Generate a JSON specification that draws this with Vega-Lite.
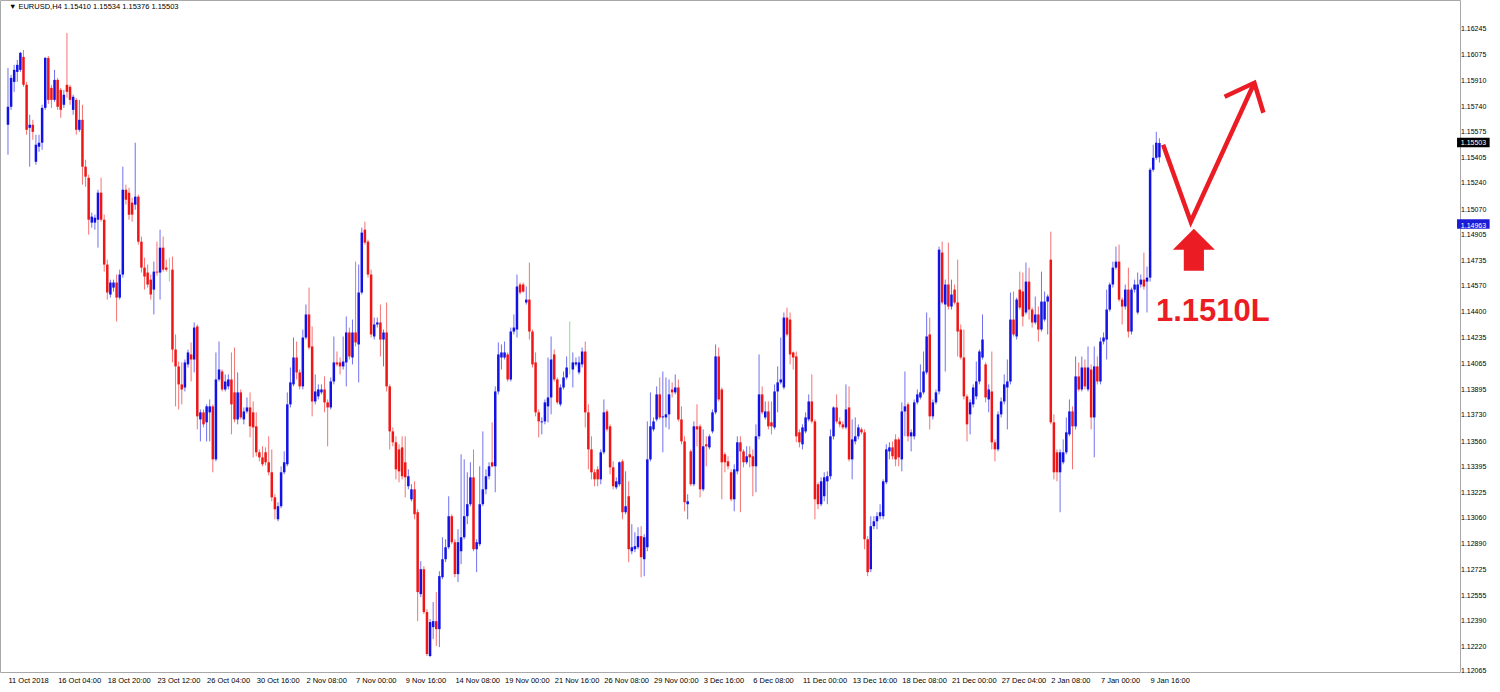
{
"$schema":"https://vega.github.io/schema/vega-lite/v6.json",
"width":1460,"height":672,
"autosize":{"type":"none"},
"padding":{"left":0,"top":0,"right":40,"bottom":20},
"background":"white",
"config":{"view":{"stroke":"#a8a8a8","strokeWidth":1},"font":"Liberation Sans","axis":{"labelOverlap":false,"labelSeparation":0},"axisY":{"labelOverlap":false},"axisX":{"labelOverlap":false}},
"datasets":{
"candles":[
{"i":0,"o":1.15622,"h":1.15992,"l":1.15427,"c":1.15739},
{"i":1,"o":1.15739,"h":1.15947,"l":1.15719,"c":1.15927},
{"i":2,"o":1.15901,"h":1.16012,"l":1.15836,"c":1.15979},
{"i":3,"o":1.15966,"h":1.16044,"l":1.15901,"c":1.16012},
{"i":4,"o":1.15979,"h":1.16096,"l":1.15966,"c":1.16090},
{"i":5,"o":1.16064,"h":1.16109,"l":1.15869,"c":1.15882},
{"i":6,"o":1.15882,"h":1.15901,"l":1.15557,"c":1.15589},
{"i":7,"o":1.15602,"h":1.15687,"l":1.15349,"c":1.15622},
{"i":8,"o":1.15622,"h":1.15654,"l":1.15524,"c":1.15576},
{"i":9,"o":1.15381,"h":1.15557,"l":1.15362,"c":1.15492},
{"i":10,"o":1.15479,"h":1.15557,"l":1.15446,"c":1.15505},
{"i":11,"o":1.15505,"h":1.15752,"l":1.15459,"c":1.15732},
{"i":12,"o":1.15732,"h":1.16064,"l":1.15719,"c":1.16057},
{"i":13,"o":1.16057,"h":1.16070,"l":1.15758,"c":1.15784},
{"i":14,"o":1.15862,"h":1.15882,"l":1.15732,"c":1.15784},
{"i":15,"o":1.15784,"h":1.15979,"l":1.15771,"c":1.15914},
{"i":16,"o":1.15914,"h":1.15927,"l":1.15719,"c":1.15739},
{"i":17,"o":1.15849,"h":1.15862,"l":1.15667,"c":1.15719},
{"i":18,"o":1.15752,"h":1.15849,"l":1.15732,"c":1.15817},
{"i":19,"o":1.15882,"h":1.16220,"l":1.15797,"c":1.15836},
{"i":20,"o":1.15869,"h":1.15882,"l":1.15752,"c":1.15784},
{"i":21,"o":1.15719,"h":1.15817,"l":1.15687,"c":1.15804},
{"i":22,"o":1.15784,"h":1.15797,"l":1.15557,"c":1.15589},
{"i":23,"o":1.15589,"h":1.15784,"l":1.15576,"c":1.15654},
{"i":24,"o":1.15654,"h":1.15752,"l":1.15232,"c":1.15349},
{"i":25,"o":1.15349,"h":1.15394,"l":1.15219,"c":1.15284},
{"i":26,"o":1.15277,"h":1.15297,"l":1.14907,"c":1.15004},
{"i":27,"o":1.14985,"h":1.15050,"l":1.14952,"c":1.15024},
{"i":28,"o":1.14985,"h":1.15037,"l":1.14939,"c":1.15017},
{"i":29,"o":1.15004,"h":1.15199,"l":1.14822,"c":1.15180},
{"i":30,"o":1.15180,"h":1.15277,"l":1.14991,"c":1.15004},
{"i":31,"o":1.15004,"h":1.15037,"l":1.14666,"c":1.14712},
{"i":32,"o":1.14712,"h":1.14744,"l":1.14484,"c":1.14530},
{"i":33,"o":1.14517,"h":1.14614,"l":1.14497,"c":1.14595},
{"i":34,"o":1.14562,"h":1.14614,"l":1.14536,"c":1.14595},
{"i":35,"o":1.14595,"h":1.14647,"l":1.14341,"c":1.14497},
{"i":36,"o":1.14497,"h":1.14679,"l":1.14484,"c":1.14647},
{"i":37,"o":1.14647,"h":1.15349,"l":1.14627,"c":1.15199},
{"i":38,"o":1.15199,"h":1.15232,"l":1.15102,"c":1.15134},
{"i":39,"o":1.15180,"h":1.15212,"l":1.15004,"c":1.15037},
{"i":40,"o":1.15115,"h":1.15147,"l":1.14991,"c":1.15037},
{"i":41,"o":1.15102,"h":1.15505,"l":1.15069,"c":1.15154},
{"i":42,"o":1.15154,"h":1.15167,"l":1.14842,"c":1.14861},
{"i":43,"o":1.14861,"h":1.14894,"l":1.14660,"c":1.14692},
{"i":44,"o":1.14692,"h":1.14757,"l":1.14549,"c":1.14634},
{"i":45,"o":1.14660,"h":1.14712,"l":1.14562,"c":1.14582},
{"i":46,"o":1.14614,"h":1.14647,"l":1.14484,"c":1.14517},
{"i":47,"o":1.14549,"h":1.14731,"l":1.14387,"c":1.14666},
{"i":48,"o":1.14666,"h":1.14861,"l":1.14640,"c":1.14660},
{"i":49,"o":1.14660,"h":1.14939,"l":1.14484,"c":1.14822},
{"i":50,"o":1.14822,"h":1.14894,"l":1.14666,"c":1.14679},
{"i":51,"o":1.14692,"h":1.14744,"l":1.14666,"c":1.14679},
{"i":52,"o":1.14679,"h":1.14757,"l":1.14601,"c":1.14679},
{"i":53,"o":1.14679,"h":1.14764,"l":1.14075,"c":1.14159},
{"i":54,"o":1.14159,"h":1.14257,"l":1.13789,"c":1.14049},
{"i":55,"o":1.14049,"h":1.14081,"l":1.13769,"c":1.13932},
{"i":56,"o":1.13932,"h":1.14075,"l":1.13802,"c":1.13899},
{"i":57,"o":1.13912,"h":1.14094,"l":1.13886,"c":1.14075},
{"i":58,"o":1.14062,"h":1.14159,"l":1.14042,"c":1.14140},
{"i":59,"o":1.14127,"h":1.14205,"l":1.13951,"c":1.14094},
{"i":60,"o":1.14094,"h":1.14335,"l":1.14010,"c":1.14302},
{"i":61,"o":1.14309,"h":1.14322,"l":1.13639,"c":1.13724},
{"i":62,"o":1.13704,"h":1.13769,"l":1.13561,"c":1.13750},
{"i":63,"o":1.13750,"h":1.13769,"l":1.13652,"c":1.13672},
{"i":64,"o":1.13685,"h":1.13802,"l":1.13561,"c":1.13789},
{"i":65,"o":1.13750,"h":1.13834,"l":1.13561,"c":1.13789},
{"i":66,"o":1.13789,"h":1.13802,"l":1.13360,"c":1.13444},
{"i":67,"o":1.13444,"h":1.14140,"l":1.13431,"c":1.13964},
{"i":68,"o":1.13964,"h":1.14211,"l":1.13951,"c":1.14029},
{"i":69,"o":1.14016,"h":1.14029,"l":1.13886,"c":1.13899},
{"i":70,"o":1.13899,"h":1.13997,"l":1.13886,"c":1.13951},
{"i":71,"o":1.13919,"h":1.13997,"l":1.13899,"c":1.13964},
{"i":72,"o":1.13964,"h":1.14140,"l":1.13607,"c":1.13802},
{"i":73,"o":1.13880,"h":1.14172,"l":1.13685,"c":1.13704},
{"i":74,"o":1.13704,"h":1.14010,"l":1.13672,"c":1.13880},
{"i":75,"o":1.13880,"h":1.13899,"l":1.13704,"c":1.13717},
{"i":76,"o":1.13704,"h":1.13782,"l":1.13672,"c":1.13756},
{"i":77,"o":1.13756,"h":1.13847,"l":1.13743,"c":1.13782},
{"i":78,"o":1.13782,"h":1.13880,"l":1.13587,"c":1.13659},
{"i":79,"o":1.13750,"h":1.13821,"l":1.13457,"c":1.13652},
{"i":80,"o":1.13659,"h":1.13750,"l":1.13464,"c":1.13490},
{"i":81,"o":1.13490,"h":1.13509,"l":1.13431,"c":1.13457},
{"i":82,"o":1.13457,"h":1.13529,"l":1.13399,"c":1.13412},
{"i":83,"o":1.13490,"h":1.13522,"l":1.13405,"c":1.13425},
{"i":84,"o":1.13425,"h":1.13594,"l":1.13340,"c":1.13360},
{"i":85,"o":1.13360,"h":1.13509,"l":1.13171,"c":1.13197},
{"i":86,"o":1.13197,"h":1.13217,"l":1.13054,"c":1.13119},
{"i":87,"o":1.13054,"h":1.13165,"l":1.13041,"c":1.13139},
{"i":88,"o":1.13139,"h":1.13399,"l":1.13126,"c":1.13360},
{"i":89,"o":1.13360,"h":1.13496,"l":1.13347,"c":1.13425},
{"i":90,"o":1.13412,"h":1.13880,"l":1.13399,"c":1.13802},
{"i":91,"o":1.13802,"h":1.14042,"l":1.13782,"c":1.13945},
{"i":92,"o":1.13932,"h":1.14237,"l":1.13919,"c":1.14107},
{"i":93,"o":1.14107,"h":1.14211,"l":1.13964,"c":1.14010},
{"i":94,"o":1.14010,"h":1.14029,"l":1.13899,"c":1.13919},
{"i":95,"o":1.13919,"h":1.14289,"l":1.13899,"c":1.14237},
{"i":96,"o":1.14237,"h":1.14452,"l":1.14224,"c":1.14387},
{"i":97,"o":1.14387,"h":1.14562,"l":1.14159,"c":1.14172},
{"i":98,"o":1.14179,"h":1.14309,"l":1.13724,"c":1.13821},
{"i":99,"o":1.13821,"h":1.13997,"l":1.13802,"c":1.13886},
{"i":100,"o":1.13854,"h":1.13932,"l":1.13834,"c":1.13899},
{"i":101,"o":1.13880,"h":1.13932,"l":1.13867,"c":1.13899},
{"i":102,"o":1.13899,"h":1.13984,"l":1.13750,"c":1.13815},
{"i":103,"o":1.13815,"h":1.13834,"l":1.13529,"c":1.13782},
{"i":104,"o":1.13782,"h":1.13977,"l":1.13769,"c":1.13951},
{"i":105,"o":1.13951,"h":1.14244,"l":1.13932,"c":1.14075},
{"i":106,"o":1.14075,"h":1.14146,"l":1.14049,"c":1.14062},
{"i":107,"o":1.14075,"h":1.14107,"l":1.13997,"c":1.14049},
{"i":108,"o":1.14049,"h":1.14244,"l":1.14029,"c":1.14081},
{"i":109,"o":1.14075,"h":1.14374,"l":1.13919,"c":1.14270},
{"i":110,"o":1.14270,"h":1.14302,"l":1.14094,"c":1.14114},
{"i":111,"o":1.14107,"h":1.14354,"l":1.14062,"c":1.14270},
{"i":112,"o":1.14270,"h":1.14731,"l":1.14179,"c":1.14205},
{"i":113,"o":1.14192,"h":1.14712,"l":1.13945,"c":1.14530},
{"i":114,"o":1.14530,"h":1.14952,"l":1.14517,"c":1.14920},
{"i":115,"o":1.14939,"h":1.14991,"l":1.14842,"c":1.14855},
{"i":116,"o":1.14861,"h":1.14874,"l":1.14627,"c":1.14647},
{"i":117,"o":1.14647,"h":1.14679,"l":1.14237,"c":1.14257},
{"i":118,"o":1.14244,"h":1.14367,"l":1.14224,"c":1.14322},
{"i":119,"o":1.14322,"h":1.14367,"l":1.14302,"c":1.14335},
{"i":120,"o":1.14335,"h":1.14452,"l":1.14114,"c":1.14224},
{"i":121,"o":1.14224,"h":1.14289,"l":1.14049,"c":1.14270},
{"i":122,"o":1.14270,"h":1.14465,"l":1.13886,"c":1.13919},
{"i":123,"o":1.13919,"h":1.13932,"l":1.13509,"c":1.13626},
{"i":124,"o":1.13626,"h":1.13652,"l":1.13529,"c":1.13555},
{"i":125,"o":1.13555,"h":1.13594,"l":1.13314,"c":1.13379},
{"i":126,"o":1.13509,"h":1.13542,"l":1.13295,"c":1.13366},
{"i":127,"o":1.13522,"h":1.13594,"l":1.13314,"c":1.13334},
{"i":128,"o":1.13425,"h":1.13594,"l":1.13197,"c":1.13327},
{"i":129,"o":1.13269,"h":1.13379,"l":1.13249,"c":1.13334},
{"i":130,"o":1.13184,"h":1.13282,"l":1.13171,"c":1.13249},
{"i":131,"o":1.13249,"h":1.13301,"l":1.13054,"c":1.13087},
{"i":132,"o":1.13100,"h":1.13119,"l":1.12391,"c":1.12580},
{"i":133,"o":1.12567,"h":1.12781,"l":1.12547,"c":1.12729},
{"i":134,"o":1.12729,"h":1.12749,"l":1.12437,"c":1.12450},
{"i":135,"o":1.12450,"h":1.12469,"l":1.12164,"c":1.12177},
{"i":136,"o":1.12164,"h":1.12404,"l":1.12157,"c":1.12385},
{"i":137,"o":1.12352,"h":1.12515,"l":1.12274,"c":1.12391},
{"i":138,"o":1.12391,"h":1.12580,"l":1.12229,"c":1.12339},
{"i":139,"o":1.12339,"h":1.12716,"l":1.12222,"c":1.12684},
{"i":140,"o":1.12677,"h":1.12937,"l":1.12664,"c":1.12794},
{"i":141,"o":1.12794,"h":1.12924,"l":1.12775,"c":1.12872},
{"i":142,"o":1.12872,"h":1.13204,"l":1.12859,"c":1.13074},
{"i":143,"o":1.13074,"h":1.13087,"l":1.12892,"c":1.12905},
{"i":144,"o":1.12905,"h":1.12924,"l":1.12677,"c":1.12697},
{"i":145,"o":1.12697,"h":1.12989,"l":1.12645,"c":1.12905},
{"i":146,"o":1.12846,"h":1.13477,"l":1.12762,"c":1.12937},
{"i":147,"o":1.12937,"h":1.13444,"l":1.12924,"c":1.13074},
{"i":148,"o":1.13074,"h":1.13360,"l":1.13022,"c":1.13152},
{"i":149,"o":1.13152,"h":1.13425,"l":1.13139,"c":1.13327},
{"i":150,"o":1.13327,"h":1.13509,"l":1.12846,"c":1.12859},
{"i":151,"o":1.12859,"h":1.12924,"l":1.12710,"c":1.12905},
{"i":152,"o":1.12892,"h":1.13399,"l":1.12879,"c":1.13152},
{"i":153,"o":1.13152,"h":1.13626,"l":1.13139,"c":1.13249},
{"i":154,"o":1.13249,"h":1.13379,"l":1.13217,"c":1.13334},
{"i":155,"o":1.13334,"h":1.13425,"l":1.13314,"c":1.13399},
{"i":156,"o":1.13425,"h":1.13685,"l":1.13392,"c":1.13399},
{"i":157,"o":1.13399,"h":1.13919,"l":1.13230,"c":1.13886},
{"i":158,"o":1.13886,"h":1.14205,"l":1.13867,"c":1.14127},
{"i":159,"o":1.14107,"h":1.14192,"l":1.14029,"c":1.14140},
{"i":160,"o":1.14107,"h":1.14211,"l":1.14094,"c":1.14140},
{"i":161,"o":1.14127,"h":1.14140,"l":1.13951,"c":1.13964},
{"i":162,"o":1.13964,"h":1.14302,"l":1.13951,"c":1.14276},
{"i":163,"o":1.14276,"h":1.14387,"l":1.14257,"c":1.14302},
{"i":164,"o":1.14289,"h":1.14647,"l":1.14237,"c":1.14569},
{"i":165,"o":1.14582,"h":1.14595,"l":1.14517,"c":1.14530},
{"i":166,"o":1.14582,"h":1.14595,"l":1.14530,"c":1.14536},
{"i":167,"o":1.14465,"h":1.14569,"l":1.14452,"c":1.14484},
{"i":168,"o":1.14484,"h":1.14725,"l":1.14224,"c":1.14276},
{"i":169,"o":1.14276,"h":1.14289,"l":1.14042,"c":1.14062},
{"i":170,"o":1.14075,"h":1.14140,"l":1.13724,"c":1.13750},
{"i":171,"o":1.13750,"h":1.13769,"l":1.13587,"c":1.13691},
{"i":172,"o":1.13685,"h":1.13717,"l":1.13607,"c":1.13691},
{"i":173,"o":1.13691,"h":1.13834,"l":1.13672,"c":1.13815},
{"i":174,"o":1.13789,"h":1.14107,"l":1.13685,"c":1.13847},
{"i":175,"o":1.13847,"h":1.14244,"l":1.13737,"c":1.14094},
{"i":176,"o":1.14127,"h":1.14159,"l":1.13951,"c":1.13964},
{"i":177,"o":1.13964,"h":1.13977,"l":1.13802,"c":1.13815},
{"i":178,"o":1.13802,"h":1.13932,"l":1.13789,"c":1.13912},
{"i":179,"o":1.13912,"h":1.14016,"l":1.13899,"c":1.13977},
{"i":180,"o":1.13977,"h":1.14114,"l":1.13964,"c":1.14042},
{"i":181,"o":1.14016,"h":1.14341,"l":1.13997,"c":1.14016},
{"i":182,"o":1.14029,"h":1.14140,"l":1.13912,"c":1.14075},
{"i":183,"o":1.14062,"h":1.14107,"l":1.14049,"c":1.14075},
{"i":184,"o":1.14010,"h":1.14114,"l":1.13997,"c":1.14075},
{"i":185,"o":1.14062,"h":1.14172,"l":1.14042,"c":1.14146},
{"i":186,"o":1.14146,"h":1.14211,"l":1.13652,"c":1.13750},
{"i":187,"o":1.13750,"h":1.13802,"l":1.13379,"c":1.13509},
{"i":188,"o":1.13509,"h":1.13594,"l":1.13314,"c":1.13360},
{"i":189,"o":1.13360,"h":1.13379,"l":1.13269,"c":1.13314},
{"i":190,"o":1.13379,"h":1.13399,"l":1.13269,"c":1.13314},
{"i":191,"o":1.13314,"h":1.13509,"l":1.13282,"c":1.13490},
{"i":192,"o":1.13490,"h":1.13834,"l":1.13477,"c":1.13750},
{"i":193,"o":1.13756,"h":1.13769,"l":1.13626,"c":1.13639},
{"i":194,"o":1.13659,"h":1.13672,"l":1.13347,"c":1.13392},
{"i":195,"o":1.13392,"h":1.13431,"l":1.13249,"c":1.13269},
{"i":196,"o":1.13262,"h":1.13327,"l":1.13249,"c":1.13301},
{"i":197,"o":1.13282,"h":1.13431,"l":1.13269,"c":1.13425},
{"i":198,"o":1.13431,"h":1.13444,"l":1.13054,"c":1.13100},
{"i":199,"o":1.13100,"h":1.13366,"l":1.13087,"c":1.13139},
{"i":200,"o":1.13204,"h":1.13301,"l":1.12775,"c":1.12859},
{"i":201,"o":1.12846,"h":1.13022,"l":1.12827,"c":1.12872},
{"i":202,"o":1.12859,"h":1.12970,"l":1.12840,"c":1.12879},
{"i":203,"o":1.12872,"h":1.13002,"l":1.12859,"c":1.12944},
{"i":204,"o":1.12944,"h":1.13009,"l":1.12677,"c":1.12807},
{"i":205,"o":1.12794,"h":1.12957,"l":1.12684,"c":1.12937},
{"i":206,"o":1.12872,"h":1.13691,"l":1.12846,"c":1.13444},
{"i":207,"o":1.13444,"h":1.13880,"l":1.13431,"c":1.13659},
{"i":208,"o":1.13639,"h":1.13717,"l":1.13626,"c":1.13691},
{"i":209,"o":1.13704,"h":1.13919,"l":1.13691,"c":1.13867},
{"i":210,"o":1.13867,"h":1.13977,"l":1.13704,"c":1.13717},
{"i":211,"o":1.13717,"h":1.14016,"l":1.13490,"c":1.13724},
{"i":212,"o":1.13717,"h":1.13977,"l":1.13652,"c":1.13737},
{"i":213,"o":1.13737,"h":1.13964,"l":1.13639,"c":1.13867},
{"i":214,"o":1.13899,"h":1.13945,"l":1.13847,"c":1.13880},
{"i":215,"o":1.13880,"h":1.13997,"l":1.13867,"c":1.13912},
{"i":216,"o":1.13912,"h":1.13964,"l":1.13691,"c":1.13704},
{"i":217,"o":1.13704,"h":1.13789,"l":1.13542,"c":1.13561},
{"i":218,"o":1.13561,"h":1.13594,"l":1.13106,"c":1.13165},
{"i":219,"o":1.13152,"h":1.13217,"l":1.13054,"c":1.13171},
{"i":220,"o":1.13496,"h":1.13509,"l":1.13269,"c":1.13282},
{"i":221,"o":1.13282,"h":1.13691,"l":1.13269,"c":1.13659},
{"i":222,"o":1.13659,"h":1.13802,"l":1.13529,"c":1.13639},
{"i":223,"o":1.13659,"h":1.13672,"l":1.13197,"c":1.13249},
{"i":224,"o":1.13249,"h":1.13639,"l":1.13236,"c":1.13529},
{"i":225,"o":1.13542,"h":1.13594,"l":1.13399,"c":1.13529},
{"i":226,"o":1.13522,"h":1.13607,"l":1.13509,"c":1.13594},
{"i":227,"o":1.13626,"h":1.13769,"l":1.13613,"c":1.13750},
{"i":228,"o":1.13750,"h":1.14192,"l":1.13737,"c":1.14114},
{"i":229,"o":1.14114,"h":1.14172,"l":1.13821,"c":1.13834},
{"i":230,"o":1.13899,"h":1.13912,"l":1.13184,"c":1.13425},
{"i":231,"o":1.13477,"h":1.13490,"l":1.13360,"c":1.13425},
{"i":232,"o":1.13431,"h":1.13464,"l":1.13379,"c":1.13399},
{"i":233,"o":1.13360,"h":1.13379,"l":1.13171,"c":1.13184},
{"i":234,"o":1.13184,"h":1.13412,"l":1.13106,"c":1.13379},
{"i":235,"o":1.13366,"h":1.13594,"l":1.13347,"c":1.13555},
{"i":236,"o":1.13555,"h":1.13594,"l":1.13100,"c":1.13496},
{"i":237,"o":1.13496,"h":1.13509,"l":1.13392,"c":1.13425},
{"i":238,"o":1.13425,"h":1.13529,"l":1.13412,"c":1.13464},
{"i":239,"o":1.13477,"h":1.13529,"l":1.13392,"c":1.13457},
{"i":240,"o":1.13464,"h":1.13509,"l":1.13204,"c":1.13399},
{"i":241,"o":1.13399,"h":1.13672,"l":1.13230,"c":1.13594},
{"i":242,"o":1.13594,"h":1.14127,"l":1.13574,"c":1.13867},
{"i":243,"o":1.13867,"h":1.13919,"l":1.13737,"c":1.13750},
{"i":244,"o":1.13717,"h":1.13821,"l":1.13704,"c":1.13756},
{"i":245,"o":1.13756,"h":1.13821,"l":1.13639,"c":1.13659},
{"i":246,"o":1.13685,"h":1.13821,"l":1.13607,"c":1.13659},
{"i":247,"o":1.13652,"h":1.13932,"l":1.13639,"c":1.13886},
{"i":248,"o":1.13886,"h":1.14049,"l":1.13750,"c":1.13945},
{"i":249,"o":1.13945,"h":1.14237,"l":1.13932,"c":1.13964},
{"i":250,"o":1.13912,"h":1.14400,"l":1.13899,"c":1.14367},
{"i":251,"o":1.14367,"h":1.14432,"l":1.14244,"c":1.14257},
{"i":252,"o":1.14354,"h":1.14400,"l":1.14062,"c":1.14127},
{"i":253,"o":1.14140,"h":1.14146,"l":1.14029,"c":1.14107},
{"i":254,"o":1.14114,"h":1.14146,"l":1.13555,"c":1.13594},
{"i":255,"o":1.13620,"h":1.13639,"l":1.13522,"c":1.13555},
{"i":256,"o":1.13542,"h":1.13672,"l":1.13509,"c":1.13652},
{"i":257,"o":1.13626,"h":1.13750,"l":1.13613,"c":1.13717},
{"i":258,"o":1.13704,"h":1.13867,"l":1.13691,"c":1.13821},
{"i":259,"o":1.13821,"h":1.13997,"l":1.13678,"c":1.13691},
{"i":260,"o":1.13691,"h":1.13704,"l":1.13054,"c":1.13184},
{"i":261,"o":1.13282,"h":1.13295,"l":1.13119,"c":1.13152},
{"i":262,"o":1.13152,"h":1.13327,"l":1.13139,"c":1.13301},
{"i":263,"o":1.13204,"h":1.13360,"l":1.13171,"c":1.13327},
{"i":264,"o":1.13301,"h":1.13366,"l":1.13152,"c":1.13334},
{"i":265,"o":1.13334,"h":1.13639,"l":1.13314,"c":1.13594},
{"i":266,"o":1.13594,"h":1.13789,"l":1.13574,"c":1.13782},
{"i":267,"o":1.13782,"h":1.13867,"l":1.13678,"c":1.13691},
{"i":268,"o":1.13691,"h":1.13717,"l":1.13652,"c":1.13672},
{"i":269,"o":1.13672,"h":1.13691,"l":1.13639,"c":1.13652},
{"i":270,"o":1.13652,"h":1.13932,"l":1.13639,"c":1.13769},
{"i":271,"o":1.13782,"h":1.13919,"l":1.13431,"c":1.13444},
{"i":272,"o":1.13444,"h":1.13704,"l":1.13314,"c":1.13574},
{"i":273,"o":1.13561,"h":1.13717,"l":1.13542,"c":1.13594},
{"i":274,"o":1.13594,"h":1.13672,"l":1.13574,"c":1.13652},
{"i":275,"o":1.13639,"h":1.13652,"l":1.13607,"c":1.13620},
{"i":276,"o":1.13620,"h":1.13639,"l":1.12859,"c":1.12924},
{"i":277,"o":1.12924,"h":1.12944,"l":1.12684,"c":1.12710},
{"i":278,"o":1.12729,"h":1.13074,"l":1.12710,"c":1.13009},
{"i":279,"o":1.13009,"h":1.13074,"l":1.12989,"c":1.13041},
{"i":280,"o":1.13041,"h":1.13100,"l":1.12989,"c":1.13074},
{"i":281,"o":1.13074,"h":1.13152,"l":1.13054,"c":1.13100},
{"i":282,"o":1.13074,"h":1.13314,"l":1.13054,"c":1.13301},
{"i":283,"o":1.13295,"h":1.13542,"l":1.13282,"c":1.13509},
{"i":284,"o":1.13496,"h":1.13555,"l":1.13444,"c":1.13522},
{"i":285,"o":1.13522,"h":1.13561,"l":1.13444,"c":1.13464},
{"i":286,"o":1.13574,"h":1.13607,"l":1.13399,"c":1.13444},
{"i":287,"o":1.13574,"h":1.13587,"l":1.13399,"c":1.13457},
{"i":288,"o":1.13444,"h":1.13815,"l":1.13366,"c":1.13756},
{"i":289,"o":1.13756,"h":1.14016,"l":1.13594,"c":1.13789},
{"i":290,"o":1.13802,"h":1.13815,"l":1.13561,"c":1.13594},
{"i":291,"o":1.13594,"h":1.13639,"l":1.13496,"c":1.13620},
{"i":292,"o":1.13594,"h":1.13834,"l":1.13574,"c":1.13815},
{"i":293,"o":1.13815,"h":1.13899,"l":1.13802,"c":1.13867},
{"i":294,"o":1.13847,"h":1.14062,"l":1.13834,"c":1.13880},
{"i":295,"o":1.13880,"h":1.14146,"l":1.13867,"c":1.14016},
{"i":296,"o":1.14010,"h":1.14400,"l":1.13997,"c":1.14244},
{"i":297,"o":1.14257,"h":1.14367,"l":1.13639,"c":1.13724},
{"i":298,"o":1.13724,"h":1.13834,"l":1.13704,"c":1.13815},
{"i":299,"o":1.13815,"h":1.13899,"l":1.13802,"c":1.13880},
{"i":300,"o":1.13886,"h":1.14829,"l":1.13867,"c":1.14809},
{"i":301,"o":1.14790,"h":1.14861,"l":1.14452,"c":1.14465},
{"i":302,"o":1.14452,"h":1.14614,"l":1.14016,"c":1.14582},
{"i":303,"o":1.14582,"h":1.14855,"l":1.14419,"c":1.14439},
{"i":304,"o":1.14439,"h":1.14614,"l":1.14419,"c":1.14517},
{"i":305,"o":1.14549,"h":1.14582,"l":1.14452,"c":1.14465},
{"i":306,"o":1.14465,"h":1.14744,"l":1.14114,"c":1.14276},
{"i":307,"o":1.14289,"h":1.14322,"l":1.14094,"c":1.14107},
{"i":308,"o":1.14107,"h":1.14289,"l":1.13834,"c":1.13854},
{"i":309,"o":1.13854,"h":1.13867,"l":1.13561,"c":1.13672},
{"i":310,"o":1.13737,"h":1.13834,"l":1.13607,"c":1.13815},
{"i":311,"o":1.13802,"h":1.13932,"l":1.13782,"c":1.13912},
{"i":312,"o":1.13854,"h":1.14081,"l":1.13834,"c":1.13951},
{"i":313,"o":1.13951,"h":1.14159,"l":1.13932,"c":1.14146},
{"i":314,"o":1.14107,"h":1.14387,"l":1.14094,"c":1.14224},
{"i":315,"o":1.14062,"h":1.14075,"l":1.13815,"c":1.13847},
{"i":316,"o":1.13834,"h":1.13932,"l":1.13750,"c":1.13899},
{"i":317,"o":1.13886,"h":1.14146,"l":1.13509,"c":1.13555},
{"i":318,"o":1.13555,"h":1.13574,"l":1.13431,"c":1.13509},
{"i":319,"o":1.13509,"h":1.13756,"l":1.13496,"c":1.13737},
{"i":320,"o":1.13737,"h":1.13847,"l":1.13717,"c":1.13821},
{"i":321,"o":1.13821,"h":1.13997,"l":1.13802,"c":1.13932},
{"i":322,"o":1.13912,"h":1.14094,"l":1.13639,"c":1.13951},
{"i":323,"o":1.13951,"h":1.14530,"l":1.13932,"c":1.14354},
{"i":324,"o":1.14354,"h":1.14536,"l":1.14244,"c":1.14257},
{"i":325,"o":1.14244,"h":1.14497,"l":1.14224,"c":1.14484},
{"i":326,"o":1.14549,"h":1.14666,"l":1.14419,"c":1.14432},
{"i":327,"o":1.14536,"h":1.14660,"l":1.14309,"c":1.14374},
{"i":328,"o":1.14400,"h":1.14725,"l":1.14387,"c":1.14601},
{"i":329,"o":1.14601,"h":1.14692,"l":1.14354,"c":1.14419},
{"i":330,"o":1.14419,"h":1.14432,"l":1.14302,"c":1.14335},
{"i":331,"o":1.14335,"h":1.14504,"l":1.14322,"c":1.14387},
{"i":332,"o":1.14387,"h":1.14439,"l":1.14211,"c":1.14289},
{"i":333,"o":1.14289,"h":1.14666,"l":1.14276,"c":1.14471},
{"i":334,"o":1.14354,"h":1.14536,"l":1.14341,"c":1.14471},
{"i":335,"o":1.14471,"h":1.14517,"l":1.14257,"c":1.14504},
{"i":336,"o":1.14744,"h":1.14926,"l":1.13672,"c":1.13685},
{"i":337,"o":1.13685,"h":1.13737,"l":1.13314,"c":1.13360},
{"i":338,"o":1.13490,"h":1.13509,"l":1.13301,"c":1.13360},
{"i":339,"o":1.13360,"h":1.13509,"l":1.13100,"c":1.13490},
{"i":340,"o":1.13425,"h":1.13574,"l":1.13412,"c":1.13490},
{"i":341,"o":1.13490,"h":1.13717,"l":1.13477,"c":1.13620},
{"i":342,"o":1.13607,"h":1.13834,"l":1.13594,"c":1.13756},
{"i":343,"o":1.13756,"h":1.13789,"l":1.13379,"c":1.13659},
{"i":344,"o":1.13659,"h":1.14114,"l":1.13639,"c":1.13984},
{"i":345,"o":1.13984,"h":1.14075,"l":1.13886,"c":1.13899},
{"i":346,"o":1.13899,"h":1.14114,"l":1.13886,"c":1.14042},
{"i":347,"o":1.14042,"h":1.14094,"l":1.13899,"c":1.13919},
{"i":348,"o":1.13899,"h":1.14179,"l":1.13886,"c":1.14042},
{"i":349,"o":1.14029,"h":1.14062,"l":1.13639,"c":1.13717},
{"i":350,"o":1.13717,"h":1.14179,"l":1.13457,"c":1.14049},
{"i":351,"o":1.14049,"h":1.14114,"l":1.13932,"c":1.13951},
{"i":352,"o":1.13951,"h":1.14237,"l":1.13932,"c":1.14211},
{"i":353,"o":1.14211,"h":1.14270,"l":1.14192,"c":1.14237},
{"i":354,"o":1.14224,"h":1.14549,"l":1.14094,"c":1.14419},
{"i":355,"o":1.14419,"h":1.14595,"l":1.14406,"c":1.14582},
{"i":356,"o":1.14582,"h":1.14731,"l":1.14562,"c":1.14692},
{"i":357,"o":1.14692,"h":1.14829,"l":1.14679,"c":1.14731},
{"i":358,"o":1.14731,"h":1.14842,"l":1.14471,"c":1.14484},
{"i":359,"o":1.14484,"h":1.14497,"l":1.14322,"c":1.14439},
{"i":360,"o":1.14439,"h":1.14582,"l":1.14419,"c":1.14549},
{"i":361,"o":1.14549,"h":1.14692,"l":1.14237,"c":1.14276},
{"i":362,"o":1.14276,"h":1.14562,"l":1.14257,"c":1.14549},
{"i":363,"o":1.14549,"h":1.14614,"l":1.14530,"c":1.14582},
{"i":364,"o":1.14400,"h":1.14660,"l":1.14387,"c":1.14582},
{"i":365,"o":1.14582,"h":1.14647,"l":1.14562,"c":1.14614},
{"i":366,"o":1.14614,"h":1.14790,"l":1.14549,"c":1.14569},
{"i":367,"o":1.14601,"h":1.14699,"l":1.14400,"c":1.14627},
{"i":368,"o":1.14627,"h":1.15342,"l":1.14601,"c":1.15329},
{"i":369,"o":1.15329,"h":1.15492,"l":1.15316,"c":1.15407},
{"i":370,"o":1.15407,"h":1.15576,"l":1.15394,"c":1.15505},
{"i":371,"o":1.15410,"h":1.15534,"l":1.15376,"c":1.15503}
],
"arrow":[
{"seg":"v","k":0,"i":372.2,"p":1.15492},
{"seg":"v","k":1,"i":381.1,"p":1.14991},
{"seg":"v","k":2,"i":401.6,"p":1.15895},
{"seg":"h","k":0,"i":392.0,"p":1.15804},
{"seg":"h","k":1,"i":401.6,"p":1.15895},
{"seg":"h","k":2,"i":404.5,"p":1.15700}
],
"block":[{"i":382.1,"p":1.14809}],
"note":[{"i":388.2,"p":1.14400,"t":"1.1510L"}],
"header":[{"i":0.3,"p":1.16389,"t":"▼ EURUSD,H4  1.15410 1.15534 1.15376 1.15503"}],
"ylabels":[
{"p":1.16245},{"p":1.16075},{"p":1.15910},{"p":1.15740},{"p":1.15575},{"p":1.15405},{"p":1.15240},{"p":1.15070},{"p":1.14905},{"p":1.14735},{"p":1.14570},{"p":1.14400},{"p":1.14235},{"p":1.14065},{"p":1.13895},{"p":1.13730},{"p":1.13560},{"p":1.13395},{"p":1.13225},{"p":1.13060},{"p":1.12890},{"p":1.12725},{"p":1.12555},{"p":1.12390},{"p":1.12220},{"p":1.12065}
],
"boxes":[
{"kind":"level","i0":466.9,"i1":477.4,"im":472.2,"p0":1.15007,"p1":1.14945,"pc":1.14963,"t":"1.14963"},
{"kind":"price","i0":466.9,"i1":477.4,"im":472.2,"p0":1.15537,"p1":1.15476,"pc":1.15503,"t":"1.15503"}
]
},
"layer":[
{"data":{"name":"candles"},
 "mark":{"type":"rule","strokeWidth":1,"opacity":0.6},
 "encoding":{
  "x":{"field":"i","type":"quantitative","scale":{"domain":[-0.96,466.24],"nice":false,"zero":false},
   "axis":{"title":null,"values":[0,16,32,48,64,80,96,112,128,144,160,176,192,208,224,240,256,272,288,304,320,336,352,368],
    "labelExpr":"['11 Oct 2018','16 Oct 04:00','18 Oct 20:00','23 Oct 12:00','26 Oct 04:00','30 Oct 16:00','2 Nov 08:00','7 Nov 00:00','9 Nov 16:00','14 Nov 08:00','19 Nov 00:00','21 Nov 16:00','26 Nov 08:00','29 Nov 00:00','3 Dec 16:00','6 Dec 08:00','11 Dec 00:00','13 Dec 16:00','18 Dec 08:00','21 Dec 00:00','27 Dec 04:00','2 Jan 08:00','7 Jan 00:00','9 Jan 16:00'][round(datum.value/16)]",
    "labelAlign":"left","labelDx":-1,"labelPadding":4,"ticks":false,"domain":false,"grid":false,
    "labelFont":"Liberation Sans","labelFontSize":7.5,"labelColor":"#000000","labelOverlap":false,"labelFlush":false,"labelBound":false}},
  "y":{"field":"l","type":"quantitative","scale":{"domain":[1.1206,1.16434],"nice":false,"zero":false},"axis":null},
  "y2":{"field":"h"},
  "color":{"condition":[{"test":"datum.c > datum.o","value":"#1212e6"},{"test":"datum.c < datum.o","value":"#f01616"}],"value":"#3ccc3c"}
 }},
{"data":{"name":"candles"},
 "mark":{"type":"bar","width":2.5},
 "encoding":{
  "x":{"field":"i","type":"quantitative","scale":{"domain":[-0.96,466.24],"nice":false,"zero":false},"axis":{"title":null}},
  "y":{"field":"o","type":"quantitative","scale":{"domain":[1.1206,1.16434],"nice":false,"zero":false},"axis":null},
  "y2":{"field":"c"},
  "color":{"condition":[{"test":"datum.c > datum.o","value":"#1212e6"},{"test":"datum.c < datum.o","value":"#f01616"}],"value":"#3ccc3c"}
 }},
{"mark":{"type":"rule","color":"#1c1cd6","strokeWidth":2.8},
 "encoding":{"y":{"datum":1.14963,"type":"quantitative","scale":{"domain":[1.1206,1.16434],"nice":false,"zero":false},"axis":null}}},
{"data":{"name":"arrow"},
 "mark":{"type":"line","color":"#ec1c24","strokeWidth":4.5,"strokeJoin":"miter","strokeCap":"butt"},
 "encoding":{
  "x":{"field":"i","type":"quantitative","scale":{"domain":[-0.96,466.24],"nice":false,"zero":false},"axis":{"title":null}},
  "y":{"field":"p","type":"quantitative","scale":{"domain":[1.1206,1.16434],"nice":false,"zero":false},"axis":null},
  "detail":{"field":"seg"},
  "order":{"field":"k","type":"quantitative"}
 }},
{"data":{"name":"block"},
 "mark":{"type":"point","shape":"M0,-1L1,0L0.48,0L0.48,1L-0.48,1L-0.48,0L-1,0Z","filled":true,"color":"#ec1c24","opacity":1,"size":1764,"strokeWidth":0},
 "encoding":{
  "x":{"field":"i","type":"quantitative","scale":{"domain":[-0.96,466.24],"nice":false,"zero":false},"axis":{"title":null}},
  "y":{"field":"p","type":"quantitative","scale":{"domain":[1.1206,1.16434],"nice":false,"zero":false},"axis":null}
 }},
{"data":{"name":"note"},
 "mark":{"type":"text","font":"Liberation Sans","fontWeight":"bold","fontSize":31,"color":"#ec1c24","align":"center","baseline":"middle"},
 "encoding":{
  "x":{"field":"i","type":"quantitative","scale":{"domain":[-0.96,466.24],"nice":false,"zero":false},"axis":{"title":null}},
  "y":{"field":"p","type":"quantitative","scale":{"domain":[1.1206,1.16434],"nice":false,"zero":false},"axis":null},
  "text":{"field":"t"}
 }},
{"data":{"name":"header"},
 "mark":{"type":"text","font":"Liberation Sans","fontSize":7.5,"color":"#000000","align":"left","baseline":"middle"},
 "encoding":{
  "x":{"field":"i","type":"quantitative","scale":{"domain":[-0.96,466.24],"nice":false,"zero":false},"axis":{"title":null}},
  "y":{"field":"p","type":"quantitative","scale":{"domain":[1.1206,1.16434],"nice":false,"zero":false},"axis":null},
  "text":{"field":"t"}
 }},
{"data":{"name":"ylabels"},
 "mark":{"type":"text","font":"Liberation Sans","fontSize":7,"color":"#000000","align":"left","baseline":"middle","dx":6},
 "encoding":{
  "x":{"datum":466.24,"type":"quantitative","scale":{"domain":[-0.96,466.24],"nice":false,"zero":false},"axis":{"title":null}},
  "y":{"field":"p","type":"quantitative","scale":{"domain":[1.1206,1.16434],"nice":false,"zero":false},"axis":null},
  "text":{"field":"p","type":"quantitative","format":".5f"}
 }},
{"data":{"name":"boxes"},
 "mark":{"type":"rect"},
 "encoding":{
  "x":{"field":"i0","type":"quantitative","scale":{"domain":[-0.96,466.24],"nice":false,"zero":false},"axis":{"title":null}},
  "x2":{"field":"i1"},
  "y":{"field":"p0","type":"quantitative","scale":{"domain":[1.1206,1.16434],"nice":false,"zero":false},"axis":null},
  "y2":{"field":"p1"},
  "color":{"condition":{"test":"datum.kind === 'level'","value":"#1c1cd6"},"value":"#000000"}
 }},
{"data":{"name":"boxes"},
 "mark":{"type":"text","font":"Liberation Sans","fontSize":7,"color":"#ffffff","align":"center","baseline":"middle"},
 "encoding":{
  "x":{"field":"im","type":"quantitative","scale":{"domain":[-0.96,466.24],"nice":false,"zero":false},"axis":{"title":null}},
  "y":{"field":"pc","type":"quantitative","scale":{"domain":[1.1206,1.16434],"nice":false,"zero":false},"axis":null},
  "text":{"field":"t"}
 }}
]
}
